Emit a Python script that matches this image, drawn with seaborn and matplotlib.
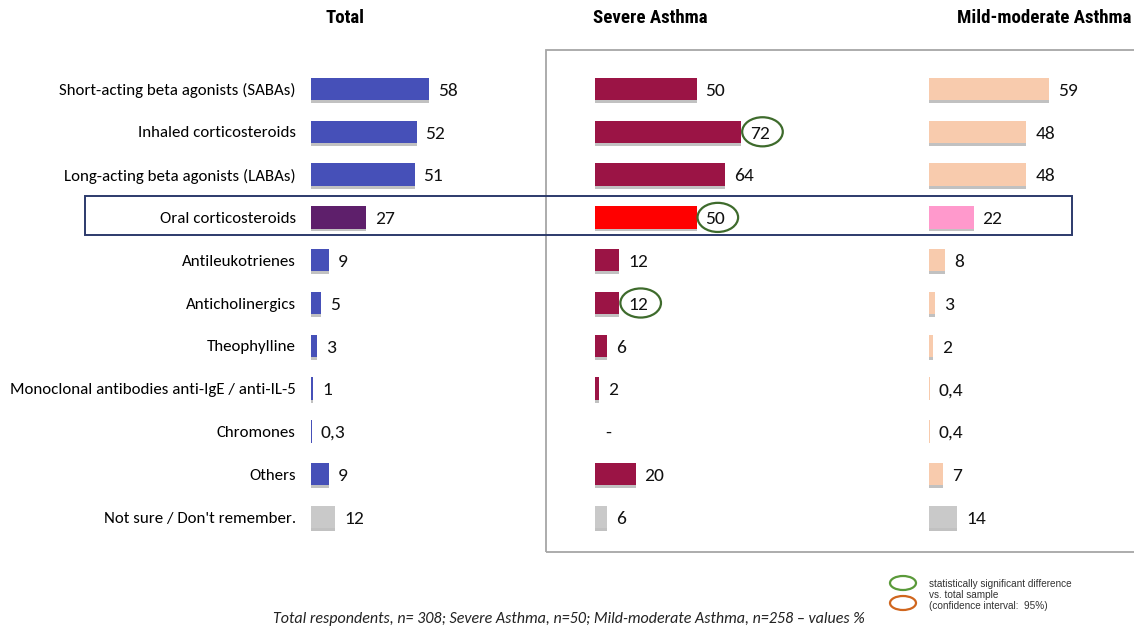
import matplotlib
matplotlib.use("Agg")
import matplotlib.pyplot as plt
import matplotlib.patheffects as pe
from matplotlib.patches import Ellipse, Rectangle
import seaborn as sns

categories = ["Short-acting beta agonists (SABAs)", "Inhaled corticosteroids",
              "Long-acting beta agonists (LABAs)", "Oral corticosteroids",
              "Antileukotrienes", "Anticholinergics", "Theophylline",
              "Monoclonal antibodies anti-IgE / anti-IL-5", "Chromones",
              "Others", "Not sure / Don't remember."]
total = [58, 52, 51, 27, 9, 5, 3, 1, 0.3, 9, 12]
severe = [50, 72, 64, 50, 12, 12, 6, 2, 0, 20, 6]
mild = [59, 48, 48, 22, 8, 3, 2, 0.4, 0.4, 7, 14]
total_labels = ["58", "52", "51", "27", "9", "5", "3", "1", "0,3", "9", "12"]
severe_labels = ["50", "72", "64", "50", "12", "12", "6", "2", "-", "20", "6"]
mild_labels = ["59", "48", "48", "22", "8", "3", "2", "0,4", "0,4", "7", "14"]
significant = [1, 3, 5]  # rows circled in the severe column

titles = ["Total", "Severe Asthma", "Mild-moderate Asthma"]
blue, maroon, peach, grey = "#4650B8", "#9B1445", "#F8CBAD", "#C9C9C9"
total_colors = [blue] * 3 + ["#5E1F6B"] + [blue] * 6 + [grey]
severe_colors = [maroon] * 3 + ["#FF0000"] + [maroon] * 6 + [grey]
mild_colors = [peach] * 3 + ["#FF99CC"] + [peach] * 6 + [grey]

plt.rcParams["font.family"] = ["Carlito", "DejaVu Sans"]

W, H = 1134, 628
fig = plt.figure(figsize=(W / 100, H / 100), dpi=100)

# axis frame in pixels: top 67.6, bottom 538.4, 2.03 px per unit
top, bot = 67.6, 538.4
span = 110
lefts = [311, 595, 929]
title_x = [345, 650, 1044]
panels = [(total, total_labels, total_colors),
          (severe, severe_labels, severe_colors),
          (mild, mild_labels, mild_colors)]

shadow = [pe.SimplePatchShadow(offset=(0, -2), shadow_rgbFace="#777777", alpha=0.45), pe.Normal()]

axes = []
for i, (vals, labs, cols) in enumerate(panels):
    ax = fig.add_axes([lefts[i] / W, 1 - bot / H, span * 2.03 / W, (bot - top) / H])
    sns.barplot(x=vals, y=categories, hue=categories, palette=cols, orient="h",
                width=0.52, legend=False, ax=ax, saturation=1)
    for p in ax.patches:
        if p.get_width() > 0.5:
            p.set_path_effects(shadow)
    ax.set_xlim(0, span)
    ax.set_ylim(10.5, -0.5)
    for j, (v, t) in enumerate(zip(vals, labs)):
        x = v + 4.4 if v > 0 else 5
        ax.text(x, j + 0.04, t, va="center", ha="left", fontsize=14, color="#111111")
    for s in ax.spines.values():
        s.set_visible(False)
    ax.set_xticks([])
    ax.set_xlabel("")
    ax.set_ylabel("")
    if i == 0:
        ax.tick_params(axis="y", length=0, pad=11, labelsize=12.2)
    else:
        ax.set_yticks([])
    ax.set_facecolor("none")
    fig.text(title_x[i] / W, 1 - 18 / H, titles[i], ha="center", va="center",
             fontsize=13.6, fontweight="bold", family=["Roboto Condensed", "Carlito"])
    axes.append(ax)

for j in significant:
    axes[1].add_patch(Ellipse((severe[j] + 10.5, j), 20, 0.68, fill=False,
                              edgecolor="#3E6B2C", lw=1.6, clip_on=False))

# frame around the two subgroup columns
fig.add_artist(Rectangle((546 / W, 1 - 552 / H), (W + 10 - 546) / W, 502 / H,
                         transform=fig.transFigure, fill=False, edgecolor="#A6A6A6", lw=1.3))
# highlight oral corticosteroids row
fig.add_artist(Rectangle((85 / W, 1 - 235 / H), (1072 - 85) / W, 39 / H,
                         transform=fig.transFigure, fill=False, edgecolor="#2C3A6B", lw=1.4))

# legend
fig.add_artist(Ellipse((903 / W, 1 - 583 / H), 26 / W, 14 / H, transform=fig.transFigure,
                       fill=False, edgecolor="#5A9A3A", lw=1.6))
fig.add_artist(Ellipse((903 / W, 1 - 603 / H), 26 / W, 14 / H, transform=fig.transFigure,
                       fill=False, edgecolor="#D0661E", lw=1.6))
fig.text(929 / W, 1 - 595 / H,
         "statistically significant difference\nvs. total sample\n(confidence interval:  95%)",
         ha="left", va="center", fontsize=7.2, family=["Liberation Sans", "DejaVu Sans"],
         color="#333333", linespacing=1.1)

fig.text(569 / W, 1 - 619 / H,
         "Total respondents, n= 308; Severe Asthma, n=50; Mild-moderate Asthma, n=258 \u2013 values %",
         ha="center", va="center", fontsize=11.5, style="italic", color="#222222")

fig.savefig("out.png", dpi=100)
